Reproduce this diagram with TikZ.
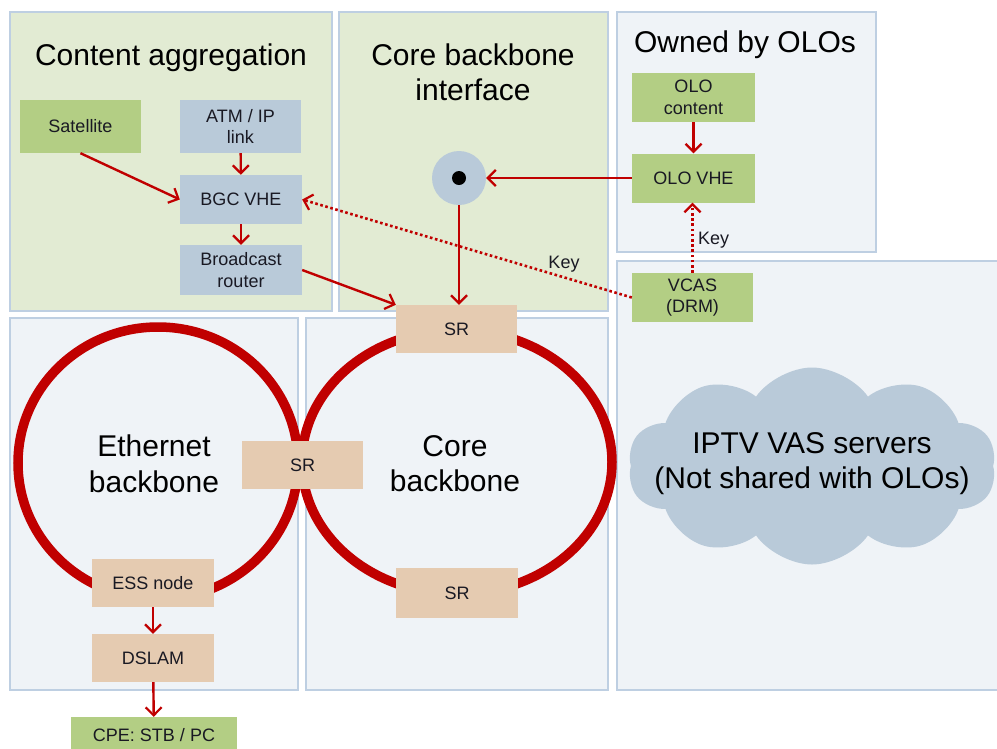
\documentclass[tikz,border=0pt]{standalone}
\usepackage{fontspec}
\setmainfont{Liberation Sans}
\usetikzlibrary{arrows.meta,shapes.symbols}
\definecolor{pgreen}{RGB}{226,235,211}
\definecolor{pgrey}{RGB}{239,243,247}
\definecolor{pedge}{RGB}{190,207,226}
\definecolor{ngreen}{RGB}{179,206,132}
\definecolor{nblue}{RGB}{185,202,217}
\definecolor{ntan}{RGB}{229,203,177}
\definecolor{cred}{RGB}{192,0,0}
\definecolor{ink}{RGB}{25,25,35}
\begin{document}
\begin{tikzpicture}[x=1pt,y=-1pt,
 panelG/.style={fill=pgreen, draw=pedge, line width=1.3pt},
 panelW/.style={fill=pgrey, draw=pedge, line width=1.3pt},
 box/.style={rectangle, inner sep=0pt, align=center, text=ink, font=\fontsize{18}{21.6}\selectfont},
 gbox/.style={box, fill=ngreen},
 bbox/.style={box, fill=nblue},
 tbox/.style={box, fill=ntan},
 title/.style={font=\fontsize{30}{35}\selectfont, text=black, inner sep=0pt},
 arr/.style={draw=cred, line width=2.4pt, -{Straight Barb[length=8pt,width=16pt,line width=2.2pt]}},
 keyarr/.style={draw=cred, line width=2.6pt, dash pattern=on 2.6pt off 2.6pt, -{Straight Barb[length=8pt,width=16pt,line width=2.2pt]}},
 ring/.style={draw=cred, line width=9.5pt},
 lbl/.style={font=\fontsize{18}{21.6}\selectfont, text=ink, inner sep=0pt},
]
\useasboundingbox (0,0) rectangle (997,748);
\fill[white] (0,0) rectangle (997,748);

% panels
\draw[panelG] (10,12) rectangle (332,311);
\draw[panelG] (339,12) rectangle (608,311);
\draw[panelW] (617,12) rectangle (876,252);
\draw[panelW] (617,261) rectangle (1005,690);
\draw[panelW] (10,318) rectangle (298,690);
\draw[panelW] (306,318) rectangle (608,690);

% titles
\node[title, anchor=base] (tCA) at (171,65) {Content aggregation};
\node[title, anchor=base] (tCBI1) at (473,65) {Core backbone};
\node[title, anchor=base] (tCBI2) at (473,100) {interface};
\node[title, anchor=base] (tOLO) at (745,52) {Owned by OLOs};

% rings
\draw[ring] (158,463) ellipse [x radius=140pt, y radius=136pt];
\draw[ring] (457,462) ellipse [x radius=155pt, y radius=132pt];
\node[title, anchor=base] (tEth1) at (154,456) {Ethernet};
\node[title, anchor=base] (tEth2) at (154,492) {backbone};
\node[title, anchor=base] (tCore1) at (455,456) {Core};
\node[title, anchor=base] (tCore2) at (455,491) {backbone};

% cloud
\node[cloud, cloud puffs=10, cloud puff arc=110, aspect=1.9, fill=nblue, draw=none, minimum width=368pt, minimum height=197pt, inner sep=0pt] (cloud) at (812,466) {};
\node[title, anchor=base] (tIPTV1) at (812,453) {IPTV VAS servers};
\node[title, anchor=base] (tIPTV2) at (812,488) {(Not shared with OLOs)};

% boxes
\node[gbox, minimum width=121pt, minimum height=53pt] (sat) at (80.5,126.5) {Satellite};
\node[bbox, minimum width=121pt, minimum height=53pt] (atm) at (240.5,126.5) {ATM / IP\\link};
\node[bbox, minimum width=122pt, minimum height=49pt] (bgc) at (241,199.5) {BGC VHE};
\node[bbox, minimum width=122pt, minimum height=50pt] (brd) at (241,270) {Broadcast\\router};
\node[gbox, minimum width=123pt, minimum height=49pt] (olocont) at (693.5,97.5) {OLO\\content};
\node[gbox, minimum width=123pt, minimum height=49pt] (olovhe) at (693.5,178) {OLO VHE};
\node[gbox, minimum width=121pt, minimum height=49pt] (vcas) at (692.5,297.5) {VCAS\\(DRM)};
\node[tbox, minimum width=121pt, minimum height=48pt] (sr1) at (456.5,329) {SR};
\node[tbox, minimum width=121pt, minimum height=48pt] (sr2) at (302.5,465) {SR};
\node[tbox, minimum width=122pt, minimum height=50pt] (sr3) at (457,593) {SR};
\node[tbox, minimum width=122pt, minimum height=48pt] (ess) at (153,583) {ESS node};
\node[tbox, minimum width=122pt, minimum height=48pt] (dslam) at (153,658) {DSLAM};
\node[gbox, minimum width=166pt, minimum height=36pt] (cpe) at (154,735) {CPE: STB / PC};

% hub
\node[circle, fill=nblue, minimum size=54pt, inner sep=0pt] (hub) at (459,178) {};
\fill[black] (hub.center) circle [radius=7pt];

% connectors
\draw[arr] (sat.south) -- (bgc.west);
\draw[arr] (atm) -- (bgc);
\draw[arr] (bgc) -- (brd);
\draw[arr] (brd.east) -- (sr1.north west);
\draw[arr] (hub.south) -- (hub.south |- sr1.north);
\draw[arr] (olovhe.west) -- (hub.east);
\draw[arr] (olocont) -- (olovhe);
\draw[keyarr] (vcas.north) -- (vcas.north |- olovhe.south);
\draw[keyarr] (vcas.west) -- (bgc.east);
\draw[arr] (ess) -- (dslam);
\draw[arr] (dslam) -- (cpe);

% key labels
\node[lbl, anchor=base] (k1) at (564,268) {Key};
\node[lbl, anchor=base west] (k2) at (698,244) {Key};
\end{tikzpicture}
\end{document}
